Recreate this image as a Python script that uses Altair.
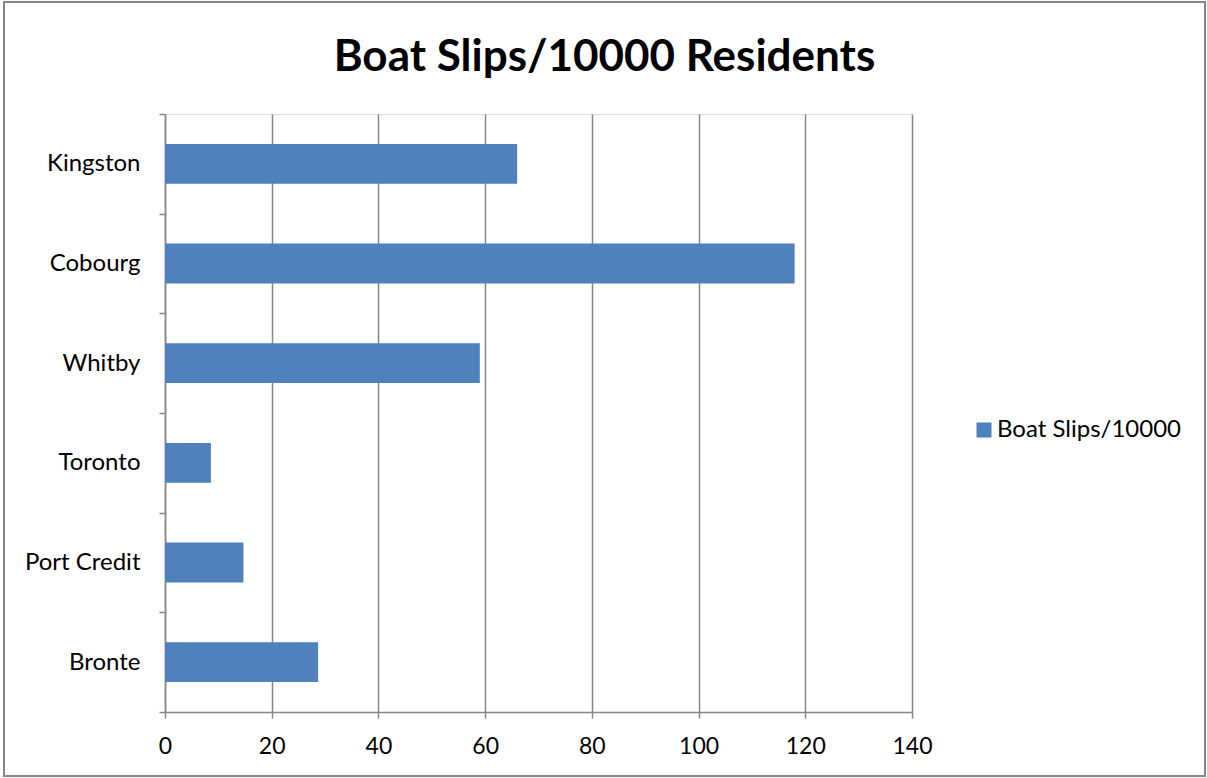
import altair as alt
import pandas as pd

cities = ["Kingston", "Cobourg", "Whitby", "Toronto", "Port Credit", "Bronte"]
slips = [66, 118, 59, 8.6, 14.7, 28.7]
series_name = "Boat Slips/10000"
x_ticks = [0, 20, 40, 60, 80, 100, 120, 140]

df = pd.DataFrame({"City": cities, "Value": slips, "Series": [series_name] * len(cities)})

FONT = "Lato"
GRAY = "#868686"

base = alt.Chart(df)

bars = base.mark_bar(color="#4F81BD", height=alt.RelativeBandSize(0.4)).encode(
    x=alt.X("Value:Q",
            scale=alt.Scale(domain=[0, 140], nice=False),
            axis=alt.Axis(values=x_ticks, title=None, grid=True, gridColor=GRAY,
                          gridWidth=1.5, domainColor=GRAY, domainWidth=1.5,
                          tickColor=GRAY, tickWidth=1.5, tickSize=6,
                          labelFontSize=23, labelFont=FONT, labelColor="#000000",
                          labelPadding=17, labelFlush=False)),
    y=alt.Y("City:N", sort=cities,
            scale=alt.Scale(paddingInner=0, paddingOuter=0),
            axis=alt.Axis(title=None, tickBand="extent", domainColor=GRAY,
                          domainWidth=1.5, tickColor=GRAY, tickWidth=1.5,
                          tickSize=6, labelFontSize=24, labelFont=FONT,
                          labelColor="#000000", labelPadding=19)),
    color=alt.Color("Series:N",
                    scale=alt.Scale(range=["#4F81BD"]),
                    legend=alt.Legend(title=None, orient="none", legendX=807,
                                      legendY=304, symbolType="square",
                                      symbolSize=225, labelFontSize=24,
                                      labelFont=FONT, labelColor="#000000",
                                      labelOffset=1, labelLimit=400,
                                      symbolStrokeWidth=0)),
)

frame = base.mark_rect(fill=None, stroke=GRAY, strokeWidth=1.5, clip=False).encode(
    x=alt.value(-161), x2=alt.value(1040), y=alt.value(-112), y2=alt.value(662)
)

chart = alt.layer(frame, bars).properties(
    width=747,
    height=598,
    title=alt.TitleParams("Boat Slips/10000 Residents", font=FONT, fontSize=44,
                          fontWeight="bold", color="#000000", anchor="middle",
                          dx=66, offset=-79),
    autosize=alt.AutoSizeParams(type="none"),
    padding={"left": 165, "top": 114, "right": 295, "bottom": 66},
).configure_view(stroke=None).configure(background="#ffffff")

chart.save("out.html", embed_options={"renderer": "svg", "actions": False})
